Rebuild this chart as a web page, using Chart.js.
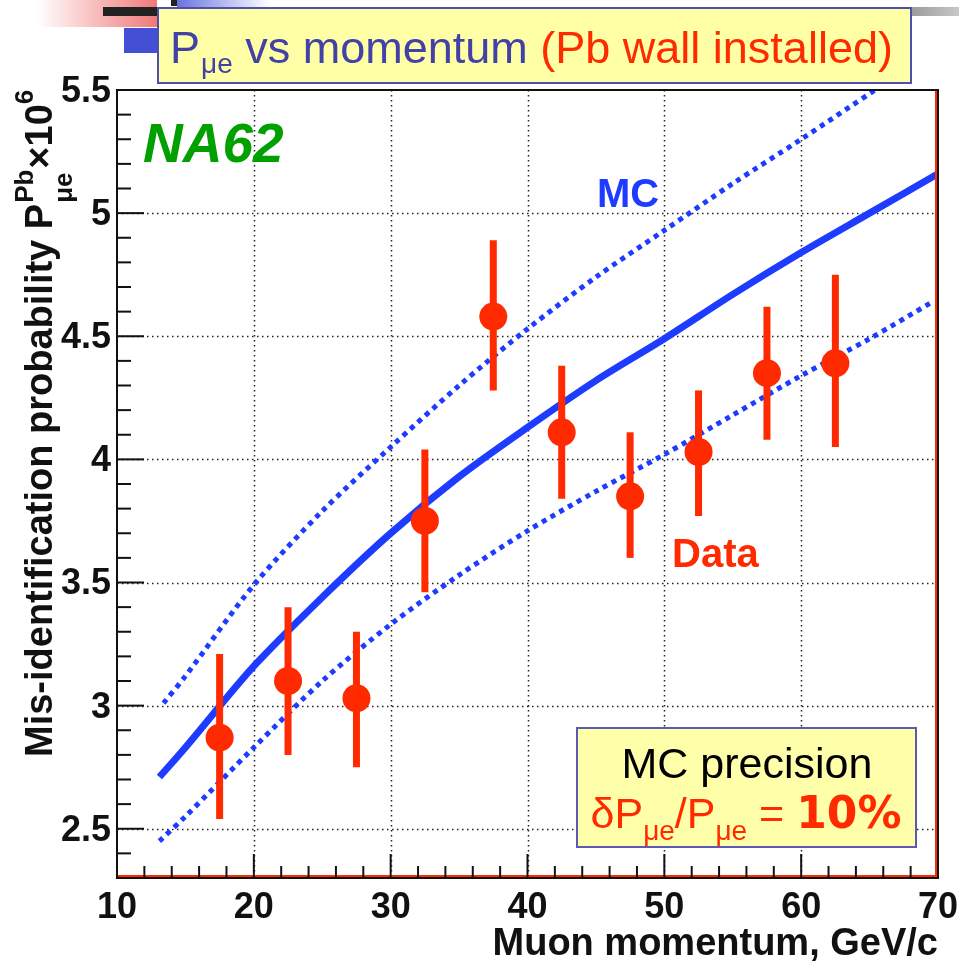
<!DOCTYPE html>
<html lang="en">
<head>
  <meta charset="UTF-8">
  <title>P_mue vs momentum (Pb wall installed)</title>
  <script src="https://cdn.jsdelivr.net/npm/chart.js"></script>
  <style>
    body {
      margin: 0;
      background: #fff;
    }
    canvas {
      display: block;
    }
  </style>
</head>
<body>
<canvas id="misidChart" width="959" height="961"></canvas>

<script>
  // data points (Data)
  const momentum = [17.5, 22.5, 27.5, 32.5, 37.5, 42.5, 47.5, 52.5, 57.5, 62.5];
  const prob = [2.87, 3.10, 3.03, 3.75, 4.58, 4.11, 3.85, 4.03, 4.35, 4.39];
  const errUp = [0.34, 0.30, 0.27, 0.29, 0.31, 0.27, 0.26, 0.25, 0.27, 0.36];
  const errDown = [0.33, 0.30, 0.28, 0.29, 0.30, 0.27, 0.25, 0.26, 0.27, 0.34];

  // MC curve and its +-10% band
  const mcX = [13.1, 15, 20, 25, 30, 35, 40, 45, 50, 55, 60, 65, 70];
  const mcCentral = [2.71, 2.83, 3.16, 3.44, 3.70, 3.93, 4.13, 4.32, 4.49, 4.67, 4.84, 5.00, 5.16];
  const mcUpperX = [13.4, 15, 20, 25, 30, 35, 40, 45, 50, 55, 60, 65.4];
  const mcUpper = [3.01, 3.12, 3.49, 3.79, 4.05, 4.30, 4.53, 4.74, 4.93, 5.12, 5.30, 5.50];
  const mcLowerX = [13.1, 15, 20, 25, 30, 35, 40, 45, 50, 55, 60, 65, 69.6];
  const mcLower = [2.45, 2.55, 2.83, 3.10, 3.33, 3.53, 3.71, 3.87, 4.02, 4.18, 4.34, 4.49, 4.64];

  // axis ticks
  const xTicks = [10, 20, 30, 40, 50, 60, 70];
  const yTicks = [2.5, 3, 3.5, 4, 4.5, 5, 5.5];
  const xMinorStep = 2;
  const yMinorStep = 0.1;

  const RED = '#ff2a00';
  const BLUE = '#1e3cff';
  const TITLE_BLUE = '#4242a6';

  const toXY = (xs, ys) => xs.map((x, i) => ({ x: x, y: ys[i] }));

  // slide decoration + title box
  const slidePlugin = {
    id: 'slide',
    beforeDraw(chart) {
      const ctx = chart.ctx;
      ctx.save();
      ctx.fillStyle = '#fff';
      ctx.fillRect(0, 0, chart.width, chart.height);

      let g = ctx.createLinearGradient(37, 0, 156, 0);
      g.addColorStop(0, 'rgba(255,255,255,1)');
      g.addColorStop(1, '#f07a7a');
      ctx.fillStyle = g;
      ctx.fillRect(37, 0, 120, 27);

      ctx.fillStyle = '#222';
      ctx.fillRect(103, 7, 56, 9);
      ctx.fillRect(171, 0, 6, 6);

      ctx.fillStyle = '#4350d6';
      ctx.fillRect(124, 28, 35, 25);

      g = ctx.createLinearGradient(177, 0, 270, 0);
      g.addColorStop(0, '#6a74e0');
      g.addColorStop(1, 'rgba(255,255,255,1)');
      ctx.fillStyle = g;
      ctx.fillRect(177, 0, 93, 7);

      g = ctx.createLinearGradient(911, 0, 959, 0);
      g.addColorStop(0, '#9a9a9a');
      g.addColorStop(1, '#c8c8c8');
      ctx.fillStyle = g;
      ctx.fillRect(911, 7, 48, 9);

      // title box
      ctx.fillStyle = '#ffffa6';
      ctx.fillRect(158, 8, 753, 75);
      ctx.strokeStyle = '#4f4fb0';
      ctx.lineWidth = 2;
      ctx.strokeRect(158, 8, 753, 75);

      ctx.textBaseline = 'alphabetic';
      ctx.textAlign = 'left';
      let x = 170;
      ctx.fillStyle = TITLE_BLUE;
      ctx.font = '45px "Liberation Sans", Arial, sans-serif';
      ctx.fillText('P', x, 63);
      x += ctx.measureText('P').width;
      ctx.font = '28px "Liberation Sans", Arial, sans-serif';
      ctx.fillText('\u03bce', x + 1, 73);
      x += ctx.measureText('\u03bce').width + 1;
      ctx.font = '45px "Liberation Sans", Arial, sans-serif';
      ctx.fillText(' vs momentum ', x, 63);
      x += ctx.measureText(' vs momentum ').width;
      ctx.fillStyle = RED;
      ctx.fillText('(Pb wall installed)', x, 63);
      ctx.restore();
    },
    beforeDatasetsDraw(chart) {
      const { ctx, chartArea: a, scales: { x, y } } = chart;
      ctx.save();
      ctx.strokeStyle = '#222';
      ctx.lineWidth = 1.5;
      ctx.setLineDash([1.5, 3.5]);
      xTicks.slice(1, -1).forEach(v => {
        const px = Math.round(x.getPixelForValue(v)) + 0.5;
        ctx.beginPath();
        ctx.moveTo(px, a.top);
        ctx.lineTo(px, a.bottom);
        ctx.stroke();
      });
      yTicks.slice(0, -1).forEach(v => {
        const py = Math.round(y.getPixelForValue(v)) + 0.5;
        ctx.beginPath();
        ctx.moveTo(a.left, py);
        ctx.lineTo(a.right, py);
        ctx.stroke();
      });
      ctx.restore();
    },
    afterDatasetsDraw(chart) {
      const { ctx, scales: { x, y } } = chart;
      // error bars
      ctx.save();
      ctx.strokeStyle = RED;
      ctx.lineWidth = 7;
      momentum.forEach((m, i) => {
        const px = x.getPixelForValue(m);
        ctx.beginPath();
        ctx.moveTo(px, y.getPixelForValue(prob[i] + errUp[i]));
        ctx.lineTo(px, y.getPixelForValue(prob[i] - errDown[i]));
        ctx.stroke();
      });
      ctx.restore();
    },
    afterDraw(chart) {
      const { ctx, chartArea: a, scales: { x, y } } = chart;
      ctx.save();

      // frame
      ctx.strokeStyle = '#111';
      ctx.lineWidth = 2;
      ctx.strokeRect(a.left, a.top, a.right - a.left, a.bottom - a.top);
      ctx.strokeStyle = RED;
      ctx.beginPath();
      ctx.moveTo(a.left + 1, a.bottom - 2);
      ctx.lineTo(a.right - 2, a.bottom - 2);
      ctx.lineTo(a.right - 2, a.top + 1);
      ctx.stroke();

      // ticks
      ctx.strokeStyle = '#111';
      ctx.lineWidth = 2;
      for (let v = y.min + yMinorStep; v < y.max - 1e-6; v += yMinorStep) {
        const major = yTicks.some(t => Math.abs(t - v) < 1e-6);
        const py = y.getPixelForValue(v);
        ctx.beginPath();
        ctx.moveTo(a.left, py);
        ctx.lineTo(a.left + (major ? 27 : 14), py);
        ctx.stroke();
      }
      for (let v = x.min + xMinorStep; v < x.max - 1e-6; v += xMinorStep) {
        const major = xTicks.some(t => Math.abs(t - v) < 1e-6);
        const px = x.getPixelForValue(v);
        ctx.beginPath();
        ctx.moveTo(px, a.bottom);
        ctx.lineTo(px, a.bottom - (major ? 24 : 12));
        ctx.stroke();
      }

      // tick labels
      ctx.fillStyle = '#111';
      ctx.font = 'bold 36px "Liberation Sans", Arial, sans-serif';
      ctx.textAlign = 'right';
      ctx.textBaseline = 'middle';
      yTicks.forEach(v => {
        ctx.fillText(String(v), 111, y.getPixelForValue(v) + 2);
      });
      ctx.textAlign = 'center';
      ctx.textBaseline = 'alphabetic';
      xTicks.forEach(v => {
        ctx.fillText(String(v), x.getPixelForValue(v), 918);
      });

      // x title
      ctx.font = 'bold 38px "Liberation Sans", Arial, sans-serif';
      ctx.textAlign = 'right';
      ctx.fillText('Muon momentum, GeV/c', 938, 955);

      // y title (rotated)
      ctx.save();
      ctx.translate(52, 757);
      ctx.rotate(-Math.PI / 2);
      ctx.textAlign = 'left';
      let tx = 0;
      const mainFont = 'bold 38px "Liberation Sans", Arial, sans-serif';
      const smallFont = 'bold 26px "Liberation Sans", Arial, sans-serif';
      ctx.font = mainFont;
      ctx.fillText('Mis-identification probability P', tx, 0);
      tx += ctx.measureText('Mis-identification probability P').width + 1;
      ctx.font = smallFont;
      ctx.fillText('Pb', tx, -19);
      const wPb = ctx.measureText('Pb').width;
      ctx.fillText('\u03bce', tx, 20);
      tx += Math.max(wPb, ctx.measureText('\u03bce').width) + 1;
      ctx.font = mainFont;
      ctx.fillText('\u00d710', tx, 0);
      tx += ctx.measureText('\u00d710').width;
      ctx.font = smallFont;
      ctx.fillText('6', tx, -19);
      ctx.restore();

      // in-plot labels
      ctx.textAlign = 'left';
      ctx.fillStyle = '#00a000';
      ctx.font = 'italic bold 55px "Liberation Sans", Arial, sans-serif';
      ctx.fillText('NA62', 143, 162);
      ctx.fillStyle = BLUE;
      ctx.font = 'bold 40px "Liberation Sans", Arial, sans-serif';
      ctx.fillText('MC', 597, 207);
      ctx.fillStyle = RED;
      ctx.fillText('Data', 672, 567);

      // MC precision box
      ctx.fillStyle = '#ffffaa';
      ctx.fillRect(577, 728, 339, 119);
      ctx.strokeStyle = '#5a5ab4';
      ctx.lineWidth = 2;
      ctx.strokeRect(577, 728, 339, 119);
      ctx.fillStyle = '#000';
      ctx.font = '43px "Liberation Sans", Arial, sans-serif';
      ctx.textAlign = 'center';
      ctx.fillText('MC precision', 747, 778);

      const parts = [
        { t: '\u03b4P', f: '43px "Liberation Sans", Arial, sans-serif', dy: 0 },
        { t: '\u03bce', f: '28px "Liberation Sans", Arial, sans-serif', dy: 12 },
        { t: '/P', f: '43px "Liberation Sans", Arial, sans-serif', dy: 0 },
        { t: '\u03bce', f: '28px "Liberation Sans", Arial, sans-serif', dy: 12 },
        { t: ' = ', f: '43px "Liberation Sans", Arial, sans-serif', dy: 0 },
        { t: '10%', f: 'bold 44px "DejaVu Sans", sans-serif', dy: 0 }
      ];
      let total = 0;
      parts.forEach(p => { ctx.font = p.f; p.w = ctx.measureText(p.t).width; total += p.w; });
      let px = 746 - total / 2;
      ctx.textAlign = 'left';
      ctx.fillStyle = RED;
      parts.forEach(p => {
        ctx.font = p.f;
        ctx.fillText(p.t, px, 828 + p.dy);
        px += p.w;
      });

      ctx.restore();
    }
  };

  const ctx = document.getElementById('misidChart').getContext('2d');
  const misidChart = new Chart(ctx, {
    type: 'scatter',
    data: {
      datasets: [
        {
          label: 'Data',
          data: toXY(momentum, prob),
          pointRadius: 14,
          pointBackgroundColor: RED,
          pointBorderWidth: 0,
          showLine: false
        },
        {
          label: 'MC',
          data: toXY(mcX, mcCentral),
          showLine: true,
          borderColor: BLUE,
          borderWidth: 7,
          pointRadius: 0,
          tension: 0.3,
          fill: false
        },
        {
          label: 'MC +10%',
          data: toXY(mcUpperX, mcUpper),
          showLine: true,
          borderColor: BLUE,
          borderWidth: 5,
          borderDash: [5, 5],
          pointRadius: 0,
          tension: 0.3,
          fill: false
        },
        {
          label: 'MC -10%',
          data: toXY(mcLowerX, mcLower),
          showLine: true,
          borderColor: BLUE,
          borderWidth: 5,
          borderDash: [5, 5],
          pointRadius: 0,
          tension: 0.3,
          fill: false
        }
      ]
    },
    options: {
      responsive: false,
      animation: false,
      layout: {
        padding: { left: 117, top: 90, right: 21, bottom: 83 }
      },
      scales: {
        x: { type: 'linear', min: 10, max: 70, display: false },
        y: { type: 'linear', min: 2.3, max: 5.5, display: false }
      },
      plugins: {
        legend: { display: false },
        tooltip: { enabled: false }
      }
    },
    plugins: [slidePlugin]
  });
</script>
</body>
</html>
